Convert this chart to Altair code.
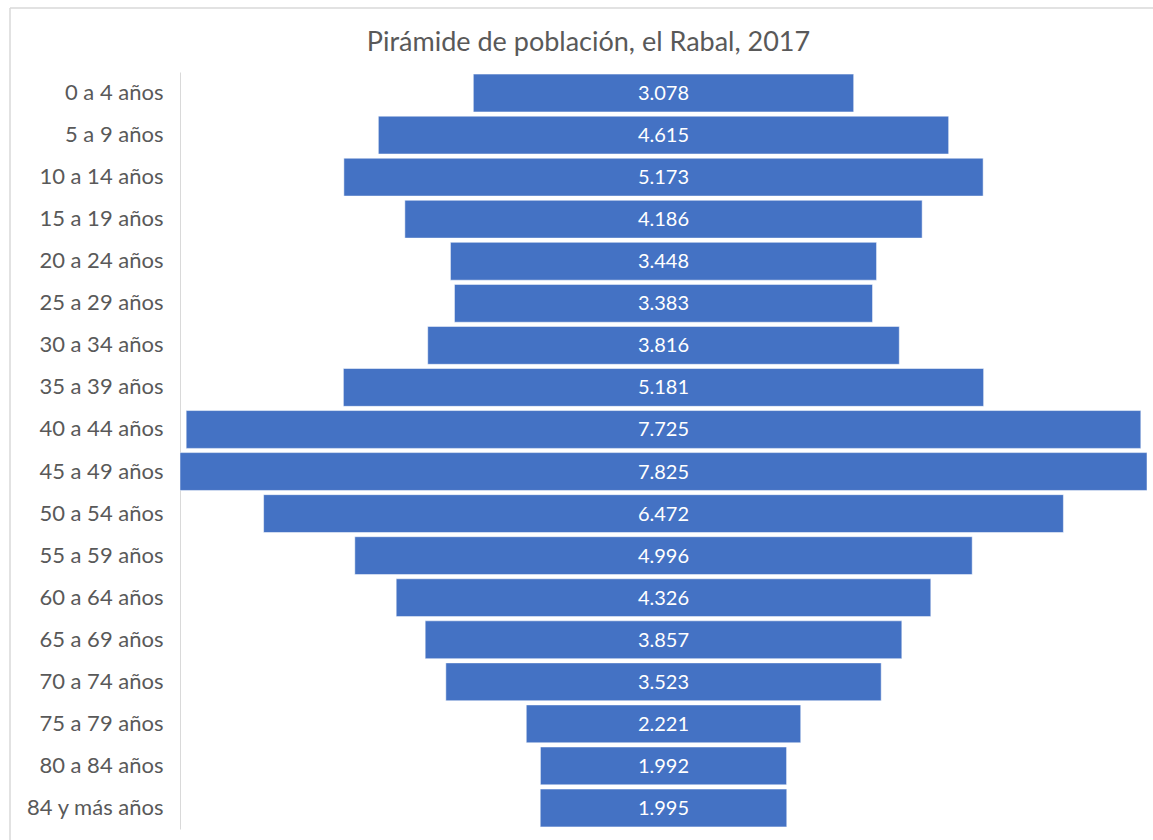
import altair as alt
import pandas as pd

groups = ["0 a 4 años", "5 a 9 años", "10 a 14 años", "15 a 19 años", "20 a 24 años",
          "25 a 29 años", "30 a 34 años", "35 a 39 años", "40 a 44 años", "45 a 49 años",
          "50 a 54 años", "55 a 59 años", "60 a 64 años", "65 a 69 años", "70 a 74 años",
          "75 a 79 años", "80 a 84 años", "84 y más años"]
values = [3078, 4615, 5173, 4186, 3448, 3383, 3816, 5181, 7725, 7825,
          6472, 4996, 4326, 3857, 3523, 2221, 1992, 1995]

df = pd.DataFrame({"grupo": groups, "valor": values})
df["etiqueta"] = [f"{v:,}".replace(",", ".") for v in values]

maxv = max(values)
FONT = "Lato"
GRAY = "#595959"

base = alt.Chart(df).transform_calculate(
    lo="-datum.valor/2", hi="datum.valor/2"
)

yenc = alt.Y("grupo:N", sort=groups, title=None,
             scale=alt.Scale(paddingInner=0.1, paddingOuter=0.05),
             axis=alt.Axis(domainColor="#d9d9d9", domainWidth=1, ticks=False,
                           labelFontSize=22, labelColor=GRAY, labelFont=FONT,
                           labelPadding=17, labelLimit=300, labelOffset=0))

bars = base.mark_bar(color="#4472C4", stroke="#ffffff", strokeWidth=0.5).encode(
    x=alt.X("lo:Q", scale=alt.Scale(domain=[-maxv / 2, maxv / 2], nice=False, zero=False),
            axis=None),
    x2="hi:Q",
    y=yenc,
)

text = base.mark_text(color="white", fontSize=20, font=FONT, baseline="middle",
                      align="center", dy=1).encode(
    x=alt.value(483.5),
    y=alt.Y("grupo:N", sort=groups),
    text="etiqueta:N",
)

# light gray chart-area border (decorative)
frame_df = pd.DataFrame({"k": [0]})
border_left = alt.Chart(frame_df).mark_rule(color="#d9d9d9", strokeWidth=1.5).encode(
    x=alt.value(-170), y=alt.value(-64), y2=alt.value(800)
)
border_top = alt.Chart(frame_df).mark_rule(color="#d9d9d9", strokeWidth=1.5).encode(
    x=alt.value(-170), x2=alt.value(1000), y=alt.value(-64)
)

chart = alt.layer(border_left, border_top, bars, text).properties(
    width=967,
    height=757,
    title=alt.TitleParams("Pirámide de población, el Rabal, 2017", fontSize=27,
                          font=FONT, fontWeight="normal", color=GRAY,
                          anchor="middle", frame="group", offset=-50, dx=-75),
    padding={"left": 180, "top": 72, "right": 6, "bottom": 11},
    autosize=alt.AutoSizeParams(type="none"),
).configure_view(stroke=None)

chart.save("out.html", embed_options={"renderer": "svg", "actions": False})
